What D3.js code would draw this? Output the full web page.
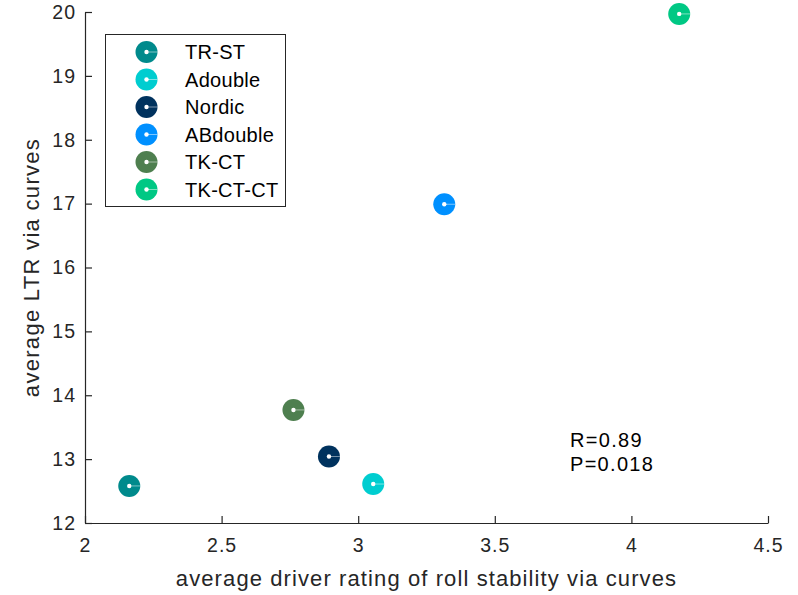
<!DOCTYPE html>
<html><head><meta charset="utf-8">
<script src="https://cdn.jsdelivr.net/npm/d3@7"></script>
<style>body{margin:0;background:#fff;} text{font-family:"Liberation Sans",Arial,sans-serif;}</style>
</head><body>
<svg id="c" width="798" height="595"></svg>
<script>
const names = ["TR-ST","Adouble","Nordic","ABdouble","TK-CT","TK-CT-CT"];
const xVals = [2.162, 3.055, 2.893, 3.315, 2.763, 4.175];
const yVals = [12.58, 12.61, 13.04, 16.99, 13.77, 19.97];
const colors = ["#008A8C","#00CDD0","#00325E","#0090FF","#4E7F4F","#00C884"];
const xTicks = [2, 2.5, 3, 3.5, 4, 4.5];
const yTicks = [12,13,14,15,16,17,18,19,20];
const statsText = ["R=0.89","P=0.018"];

const svg = d3.select("#c");
const L=85, R=768, T=12, B=523;
const x = d3.scaleLinear().domain([2,4.5]).range([L,R]);
const y = d3.scaleLinear().domain([12,20]).range([B,T]);

const ax = svg.append("g").attr("transform",`translate(0,${B})`)
  .call(d3.axisBottom(x).tickValues(xTicks).tickSizeInner(-7).tickSizeOuter(0).tickPadding(15).tickFormat(d=>d));
const ay = svg.append("g").attr("transform",`translate(${L},0)`)
  .call(d3.axisLeft(y).tickValues(yTicks).tickSizeInner(-7).tickSizeOuter(0).tickPadding(10).tickFormat(d=>d));
[ax,ay].forEach(g=>{
  g.selectAll("path,line").attr("stroke","#262626").attr("stroke-width",1.2);
  g.selectAll("text").attr("fill","#262626").style("font-size","19.5px").style("letter-spacing","1px")
   .style("font-family","'Liberation Sans',Arial,sans-serif");
});
ay.selectAll("text").attr("dx","1px");

svg.append("text").attr("x",(L+R)/2).attr("y",586).attr("text-anchor","middle")
  .attr("fill","#262626").style("font-size","22px").style("letter-spacing","1.1px")
  .text("average driver rating of roll stability via curves");
svg.append("text").attr("transform",`translate(39,${(T+B)/2}) rotate(-90)`).attr("text-anchor","middle")
  .attr("fill","#262626").style("font-size","22px").style("letter-spacing","1.3px")
  .text("average LTR via curves");

function marker(g, cx, cy, col){
  g.append("circle").attr("cx",cx).attr("cy",cy).attr("r",11).attr("fill",col);
  g.append("line").attr("x1",cx).attr("x2",cx+11).attr("y1",cy).attr("y2",cy).attr("stroke","#fff").attr("stroke-width",0.7).attr("opacity",0.7);
  g.append("circle").attr("cx",cx).attr("cy",cy).attr("r",2.2).attr("fill","#fff");
}
const pts = svg.append("g");
names.forEach((n,i)=>marker(pts, x(xVals[i]), y(yVals[i]), colors[i]));

svg.append("g").selectAll("text").data(statsText).join("text")
  .attr("x",570).attr("y",(d,i)=>447+i*24).attr("fill","#000").style("font-size","20px")
  .style("letter-spacing","1.3px").text(d=>d);

const lg = svg.append("g");
lg.append("rect").attr("x",105.5).attr("y",34.5).attr("width",180).attr("height",172)
  .attr("fill","#fff").attr("stroke","#262626").attr("stroke-width",1);
names.forEach((n,i)=>{
  const cy = 52 + i*27.5;
  marker(lg, 146.5, cy, colors[i]);
  lg.append("text").attr("x",185).attr("y",cy+7).attr("fill","#000").style("font-size","20px")
    .style("letter-spacing","0.3px").text(n);
});
</script>
</body></html>
